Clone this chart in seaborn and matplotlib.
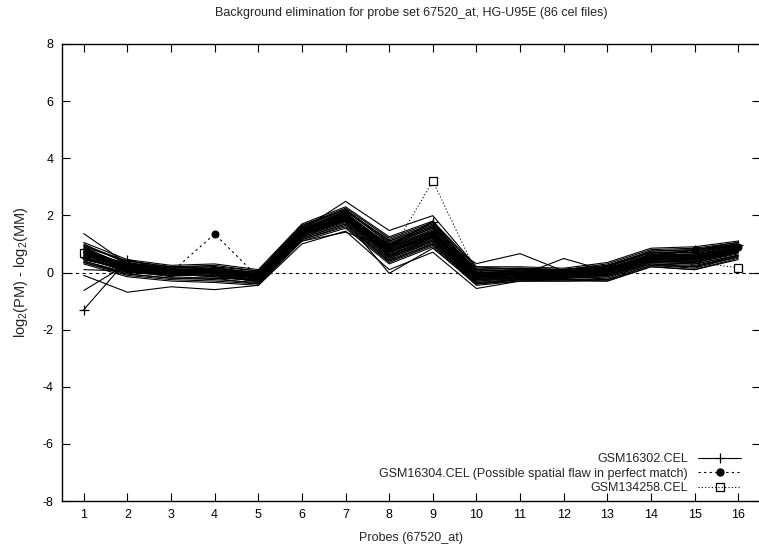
import numpy as np
import pandas as pd
import matplotlib
matplotlib.use("Agg")
import matplotlib.pyplot as plt
from matplotlib.lines import Line2D
import seaborn as sns

# ---------------- data ----------------
probes = list(range(1, 17))

gsm16302 = [-1.30, 0.45, 0.05, 0.05, -0.15, 1.45, 2.00, 0.95, 1.76, 0.00, 0.00, 0.00, 0.10, 0.55, 0.80, 0.95]
gsm16304 = [0.60, 0.15, 0.00, 1.35, -0.17, 1.40, 1.95, 0.80, 1.35, -0.05, 0.00, 0.00, 0.10, 0.55, 0.80, 0.90]
gsm134258 = [0.70, 0.20, 0.05, 0.05, -0.10, 1.45, 1.95, 0.60, 3.20, 0.00, 0.00, 0.00, 0.10, 0.50, 0.37, 0.16]

other_files = [
    [0.95, 0.40, 0.20, 0.25, 0.05, 1.65, 2.25, 1.20, 1.75, 0.15, 0.15, 0.10, 0.30, 0.80, 0.85, 1.05],
    [0.35, -0.10, -0.25, -0.30, -0.40, 1.15, 1.60, 0.35, 0.95, -0.40, -0.30, -0.30, -0.25, 0.25, 0.15, 0.55],
    [0.80, 0.25, 0.10, 0.10, -0.05, 1.50, 2.05, 0.90, 1.50, 0.00, 0.05, 0.00, 0.15, 0.60, 0.65, 0.90],
    [0.50, 0.05, -0.10, -0.10, -0.25, 1.30, 1.85, 0.65, 1.20, -0.20, -0.15, -0.15, -0.05, 0.40, 0.40, 0.70],
    [0.70, 0.20, 0.05, 0.00, -0.15, 1.45, 1.95, 0.80, 1.35, -0.10, -0.05, -0.05, 0.05, 0.50, 0.50, 0.80],
    [1.00, 0.30, 0.15, 0.20, -0.10, 1.55, 2.15, 1.05, 1.60, 0.05, 0.10, 0.05, 0.20, 0.70, 0.75, 1.00],
    [0.40, 0.00, -0.05, -0.15, -0.30, 1.25, 1.75, 0.50, 1.05, -0.30, -0.20, -0.20, -0.10, 0.35, 0.30, 0.60],
    [0.60, 0.35, 0.05, 0.05, -0.20, 1.40, 2.00, 0.75, 1.30, -0.15, -0.10, -0.10, 0.00, 0.55, 0.55, 0.85],
    [0.85, 0.10, -0.05, 0.15, 0.00, 1.60, 2.20, 1.10, 1.65, -0.05, 0.00, 0.05, 0.10, 0.65, 0.60, 0.95],
    [0.45, 0.15, 0.00, -0.05, -0.35, 1.20, 1.70, 0.40, 1.00, -0.35, -0.25, -0.20, -0.15, 0.30, 0.25, 0.55],
    [0.75, 0.30, 0.20, 0.10, -0.05, 1.50, 2.10, 0.95, 1.55, 0.10, 0.05, 0.10, 0.25, 0.70, 0.70, 0.95],
    [0.55, 0.05, -0.15, -0.20, -0.25, 1.35, 1.90, 0.60, 1.15, -0.25, -0.20, -0.15, -0.05, 0.45, 0.40, 0.75],
    [0.90, 0.20, 0.10, 0.05, -0.10, 1.45, 2.05, 0.85, 1.45, -0.05, 0.00, 0.00, 0.10, 0.55, 0.60, 0.85],
    [0.65, 0.10, -0.05, 0.00, -0.20, 1.35, 1.85, 0.70, 1.25, -0.15, -0.10, -0.10, 0.00, 0.45, 0.45, 0.75],
    [0.30, -0.15, -0.30, -0.35, -0.45, 1.10, 1.55, 0.30, 0.90, -0.45, -0.30, -0.30, -0.30, 0.20, 0.10, 0.50],
    [1.05, 0.45, 0.25, 0.30, 0.10, 1.70, 2.30, 1.25, 1.80, 0.20, 0.20, 0.15, 0.35, 0.85, 0.90, 1.10],
    [0.70, 0.15, 0.00, 0.05, -0.10, 1.40, 1.95, 0.85, 1.40, -0.10, -0.05, 0.00, 0.05, 0.50, 0.55, 0.85],
    [0.60, 0.20, 0.05, -0.05, -0.20, 1.45, 2.00, 0.70, 1.30, -0.20, -0.10, -0.05, 0.05, 0.55, 0.45, 0.80],
    [0.80, 0.05, -0.10, 0.10, -0.15, 1.30, 1.90, 1.00, 1.55, 0.00, -0.05, -0.10, 0.15, 0.60, 0.65, 0.90],
    [0.50, 0.25, 0.10, 0.00, -0.30, 1.55, 2.10, 0.55, 1.10, -0.25, -0.15, -0.15, -0.10, 0.40, 0.35, 0.65],
    [0.95, 0.35, 0.15, 0.15, 0.00, 1.50, 2.15, 1.15, 1.70, 0.05, 0.10, 0.05, 0.20, 0.75, 0.80, 1.05],
    [0.40, -0.05, -0.20, -0.25, -0.35, 1.20, 1.70, 0.45, 1.00, -0.35, -0.25, -0.25, -0.20, 0.30, 0.20, 0.60],
    [0.75, 0.10, 0.00, 0.05, -0.15, 1.40, 2.00, 0.90, 1.40, -0.05, 0.00, -0.05, 0.10, 0.55, 0.55, 0.85],
    [0.65, 0.30, 0.10, 0.10, -0.10, 1.50, 2.05, 0.75, 1.30, -0.10, -0.05, 0.00, 0.05, 0.50, 0.50, 0.80],
    [0.55, 0.00, -0.10, -0.10, -0.25, 1.25, 1.80, 0.60, 1.20, -0.20, -0.15, -0.15, -0.05, 0.40, 0.40, 0.70],
    [0.85, 0.25, 0.05, 0.15, -0.05, 1.60, 2.20, 1.00, 1.60, 0.00, 0.05, 0.05, 0.15, 0.65, 0.70, 0.95],
    [0.45, 0.10, -0.05, -0.15, -0.30, 1.30, 1.80, 0.50, 1.10, -0.30, -0.20, -0.20, -0.15, 0.35, 0.30, 0.60],
    [0.70, 0.20, 0.05, 0.00, -0.15, 1.35, 1.95, 0.80, 1.35, -0.15, -0.05, -0.05, 0.00, 0.50, 0.50, 0.80],
    [0.90, 0.40, 0.20, 0.20, 0.05, 1.65, 2.20, 1.10, 1.65, 0.10, 0.15, 0.10, 0.25, 0.75, 0.80, 1.00],
    [0.35, -0.05, -0.20, -0.20, -0.40, 1.15, 1.65, 0.40, 1.00, -0.40, -0.25, -0.25, -0.25, 0.25, 0.20, 0.55],
    [0.60, 0.15, 0.00, 0.05, -0.20, 1.40, 1.90, 0.70, 1.25, -0.15, -0.10, -0.05, 0.05, 0.45, 0.50, 0.75],
    [0.80, 0.25, 0.10, 0.10, -0.05, 1.50, 2.05, 0.95, 1.45, 0.00, 0.00, 0.00, 0.10, 0.60, 0.60, 0.90],
    [0.50, 0.05, -0.05, -0.05, -0.25, 1.30, 1.85, 0.55, 1.15, -0.25, -0.15, -0.10, -0.05, 0.40, 0.35, 0.70],
    [0.75, 0.20, 0.10, 0.05, -0.10, 1.45, 2.00, 0.85, 1.40, -0.05, 0.00, 0.00, 0.10, 0.55, 0.55, 0.85],
    [0.65, 0.10, 0.00, 0.00, -0.15, 1.40, 1.95, 0.75, 1.35, -0.10, -0.05, -0.05, 0.05, 0.50, 0.50, 0.80],
    [1.36, 0.30, 0.10, 0.05, -0.10, 1.50, 2.49, 1.47, 1.99, 0.20, 0.10, 0.10, 0.20, 0.70, 0.70, 1.00],
    [-0.10, -0.69, -0.50, -0.60, -0.45, 1.00, 1.45, 0.10, 0.71, -0.56, -0.30, -0.25, -0.30, 0.20, 0.10, 0.45],
    [-0.63, 0.30, -0.05, -0.10, -0.30, 1.30, 1.80, -0.03, 0.85, -0.40, -0.20, -0.15, -0.10, 0.40, 0.35, 0.70],
    [0.10, 0.05, 0.00, 0.10, -0.15, 1.40, 1.90, 0.70, 1.30, 0.31, 0.66, 0.05, 0.10, 0.50, 0.50, 0.80],
    [0.70, 0.15, 0.05, 0.00, -0.15, 1.35, 1.95, 0.60, 1.25, -0.10, -0.10, 0.49, 0.05, 0.50, 0.45, 0.75],
    [0.55, 0.10, 0.00, 0.00, -0.20, 1.10, 1.41, 0.90, 1.80, -0.10, -0.05, -0.05, 0.05, 0.45, 0.50, 0.80],
]

legend_labels = ["GSM16302.CEL",
                 "GSM16304.CEL (Possible spatial flaw in perfect match)",
                 "GSM134258.CEL"]
x_ticks = list(range(1, 17))
y_ticks = list(range(-8, 9, 2))

# ---------------- style ----------------
sns.set_theme(style="ticks")
plt.rcParams["font.family"] = ["Liberation Sans", "DejaVu Sans"]
plt.rcParams["font.size"] = 9
plt.rcParams["axes.unicode_minus"] = False
plt.rcParams["mathtext.fontset"] = "custom"
plt.rcParams["mathtext.rm"] = "Liberation Sans"
plt.rcParams["mathtext.it"] = "Liberation Sans"

fig = plt.figure(figsize=(7.59, 5.46), dpi=100)
ax = fig.add_axes([62 / 759, 45 / 546, 698 / 759, 457 / 546])

rows = []
for i, vals in enumerate(other_files):
    for p, v in zip(probes, vals):
        rows.append({"file": i, "probe": p, "value": v})
df = pd.DataFrame(rows)

ax.axhline(0, color="black", lw=0.8, ls=(0, (3, 3)), zorder=1)

# highlighted files first (the bundle of other files is drawn over them)
sns.lineplot(x=probes, y=gsm16302, color="black", lw=0.8, marker="+",
             markersize=7, markeredgewidth=0.9, markeredgecolor="black",
             ax=ax, legend=False, zorder=2)
sns.lineplot(x=probes, y=gsm16304, color="black", lw=0.8, ls=(0, (2, 3)),
             marker="o", markersize=5, markerfacecolor="black",
             markeredgecolor="black", ax=ax, legend=False, zorder=2)
sns.lineplot(x=probes, y=gsm134258, color="black", lw=0.8, ls=(0, (1, 2)),
             marker="s", markersize=6, markerfacecolor="white",
             markeredgecolor="black", markeredgewidth=0.9,
             ax=ax, legend=False, zorder=2)

sns.lineplot(data=df, x="probe", y="value", units="file", estimator=None,
             color="black", lw=0.8, ax=ax, legend=False, zorder=3)

ax.set_xlim(0.5, 16.5)
ax.set_ylim(-8, 8)
ax.set_xticks(x_ticks)
ax.set_yticks(y_ticks)
ax.tick_params(direction="in", length=6, width=0.8, top=True, right=True,
               labelsize=9, colors="black", pad=6)
for s in ax.spines.values():
    s.set_linewidth(1.0)
    s.set_color("black")

ax.set_title("Background elimination for probe set 67520_at, HG-U95E (86 cel files)",
             fontsize=9, pad=20)
ax.set_xlabel("Probes (67520_at)", fontsize=9, labelpad=8)
ax.set_ylabel(r"log$_2$(PM) - log$_2$(MM)", fontsize=10.5, labelpad=9)

handles = [
    Line2D([], [], color="black", lw=0.8, marker="+", markersize=7, markeredgewidth=0.9),
    Line2D([], [], color="black", lw=0.8, ls=(0, (2, 3)), marker="o", markersize=5),
    Line2D([], [], color="black", lw=0.8, ls=(0, (1, 2)), marker="s", markersize=6,
           markerfacecolor="none", markeredgewidth=0.9),
]
ax.legend(handles, legend_labels, loc="lower right", bbox_to_anchor=(0.986, -0.004),
          frameon=False, markerfirst=False, handlelength=3.5, handletextpad=0.8,
          labelspacing=0.2, borderpad=0.2, fontsize=9)

fig.savefig("out.png", dpi=100)
